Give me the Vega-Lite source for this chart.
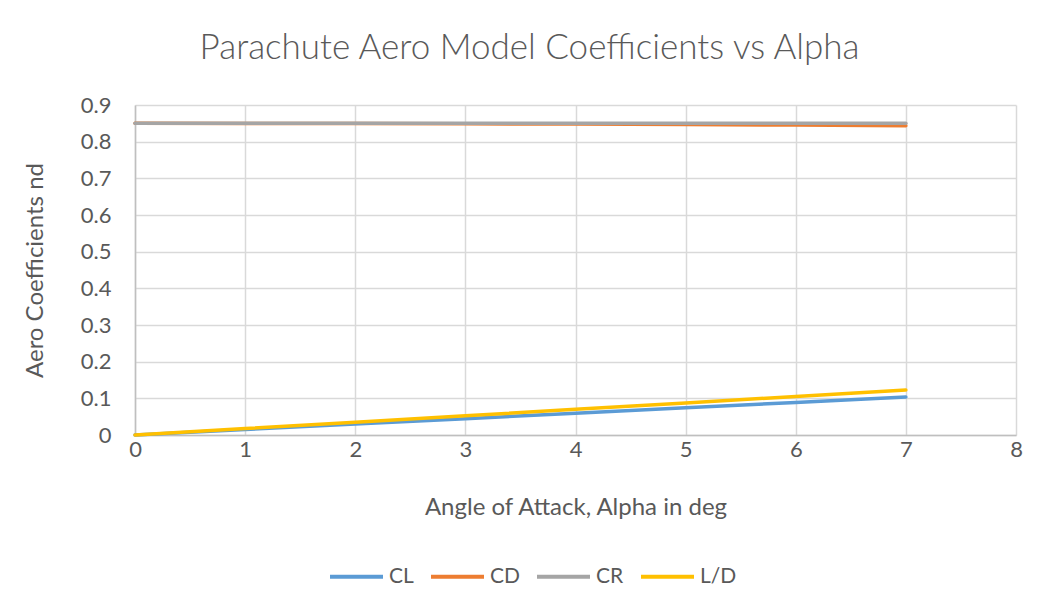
{
  "$schema": "https://vega.github.io/schema/vega-lite/v6.json",
  "width": 881,
  "height": 330,
  "autosize": {"type": "none"},
  "padding": {"left": 135, "top": 105, "right": 23, "bottom": 176},
  "background": "white",
  "title": {
    "text": "Parachute Aero Model Coefficients vs Alpha",
    "font": "Lato",
    "fontSize": 35,
    "fontWeight": 300,
    "color": "#595959",
    "anchor": "middle",
    "frame": "group",
    "dx": -46,
    "offset": 28
  },
  "data": {
    "values": [
      {"alpha": 0, "series": "CL", "value": 0},
      {"alpha": 1, "series": "CL", "value": 0.014834},
      {"alpha": 2, "series": "CL", "value": 0.029664},
      {"alpha": 3, "series": "CL", "value": 0.044486},
      {"alpha": 4, "series": "CL", "value": 0.059293},
      {"alpha": 5, "series": "CL", "value": 0.074083},
      {"alpha": 6, "series": "CL", "value": 0.088849},
      {"alpha": 7, "series": "CL", "value": 0.103589},
      {"alpha": 0, "series": "CD", "value": 0.85},
      {"alpha": 1, "series": "CD", "value": 0.849871},
      {"alpha": 2, "series": "CD", "value": 0.849482},
      {"alpha": 3, "series": "CD", "value": 0.848836},
      {"alpha": 4, "series": "CD", "value": 0.847929},
      {"alpha": 5, "series": "CD", "value": 0.846766},
      {"alpha": 6, "series": "CD", "value": 0.845344},
      {"alpha": 7, "series": "CD", "value": 0.843664},
      {"alpha": 0, "series": "CR", "value": 0.85},
      {"alpha": 1, "series": "CR", "value": 0.85},
      {"alpha": 2, "series": "CR", "value": 0.85},
      {"alpha": 3, "series": "CR", "value": 0.85},
      {"alpha": 4, "series": "CR", "value": 0.85},
      {"alpha": 5, "series": "CR", "value": 0.85},
      {"alpha": 6, "series": "CR", "value": 0.85},
      {"alpha": 7, "series": "CR", "value": 0.85},
      {"alpha": 0, "series": "L/D", "value": 0},
      {"alpha": 1, "series": "L/D", "value": 0.017455},
      {"alpha": 2, "series": "L/D", "value": 0.034921},
      {"alpha": 3, "series": "L/D", "value": 0.052408},
      {"alpha": 4, "series": "L/D", "value": 0.069927},
      {"alpha": 5, "series": "L/D", "value": 0.087489},
      {"alpha": 6, "series": "L/D", "value": 0.105104},
      {"alpha": 7, "series": "L/D", "value": 0.122785}
    ]
  },
  "mark": {"type": "line", "strokeWidth": 3.5, "strokeCap": "round"},
  "encoding": {
    "x": {
      "field": "alpha",
      "type": "quantitative",
      "scale": {"domain": [0, 8], "nice": false, "zero": false},
      "axis": {
        "title": "Angle of Attack, Alpha in deg",
        "values": [0, 1, 2, 3, 4, 5, 6, 7, 8],
        "format": "d",
        "titleY": 72,
        "titleBaseline": "middle",
        "labelPadding": 4,
        "labelFlush": false
      }
    },
    "y": {
      "field": "value",
      "type": "quantitative",
      "scale": {"domain": [0, 0.9], "nice": false},
      "axis": {
        "title": "Aero Coefficients nd",
        "values": [0, 0.1, 0.2, 0.3, 0.4, 0.5, 0.6, 0.7, 0.8, 0.9],
        "format": ".1~f",
        "titleX": -100,
        "titleY": 165,
        "titleAngle": -90,
        "titleAlign": "center",
        "titleBaseline": "middle",
        "labelPadding": 24,
        "labelFlush": false
      }
    },
    "color": {
      "field": "series",
      "type": "nominal",
      "sort": ["CL", "CD", "CR", "L/D"],
      "scale": {
        "domain": ["CL", "CD", "CR", "L/D"],
        "range": ["#5B9BD5", "#ED7D31", "#A5A5A5", "#FFC000"]
      },
      "legend": {
        "title": null,
        "orient": "none",
        "direction": "horizontal",
        "legendX": 193,
        "legendY": 443,
        "symbolType": "stroke",
        "symbolSize": 2809,
        "symbolStrokeWidth": 4,
        "labelFont": "Lato",
        "labelFontSize": 21,
        "labelColor": "#595959",
        "labelOffset": 4,
        "columnPadding": 9
      }
    },
    "order": {"field": "alpha"}
  },
  "config": {
    "view": {"stroke": null},
    "axis": {
      "labelFont": "Lato",
      "labelFontSize": 22,
      "labelColor": "#595959",
      "titleFont": "Lato",
      "titleFontSize": 24,
      "titleFontWeight": "normal",
      "titleColor": "#595959",
      "gridColor": "#D9D9D9",
      "gridWidth": 1.5,
      "domainColor": "#BFBFBF",
      "domainWidth": 1.5,
      "ticks": false
    }
  }
}
